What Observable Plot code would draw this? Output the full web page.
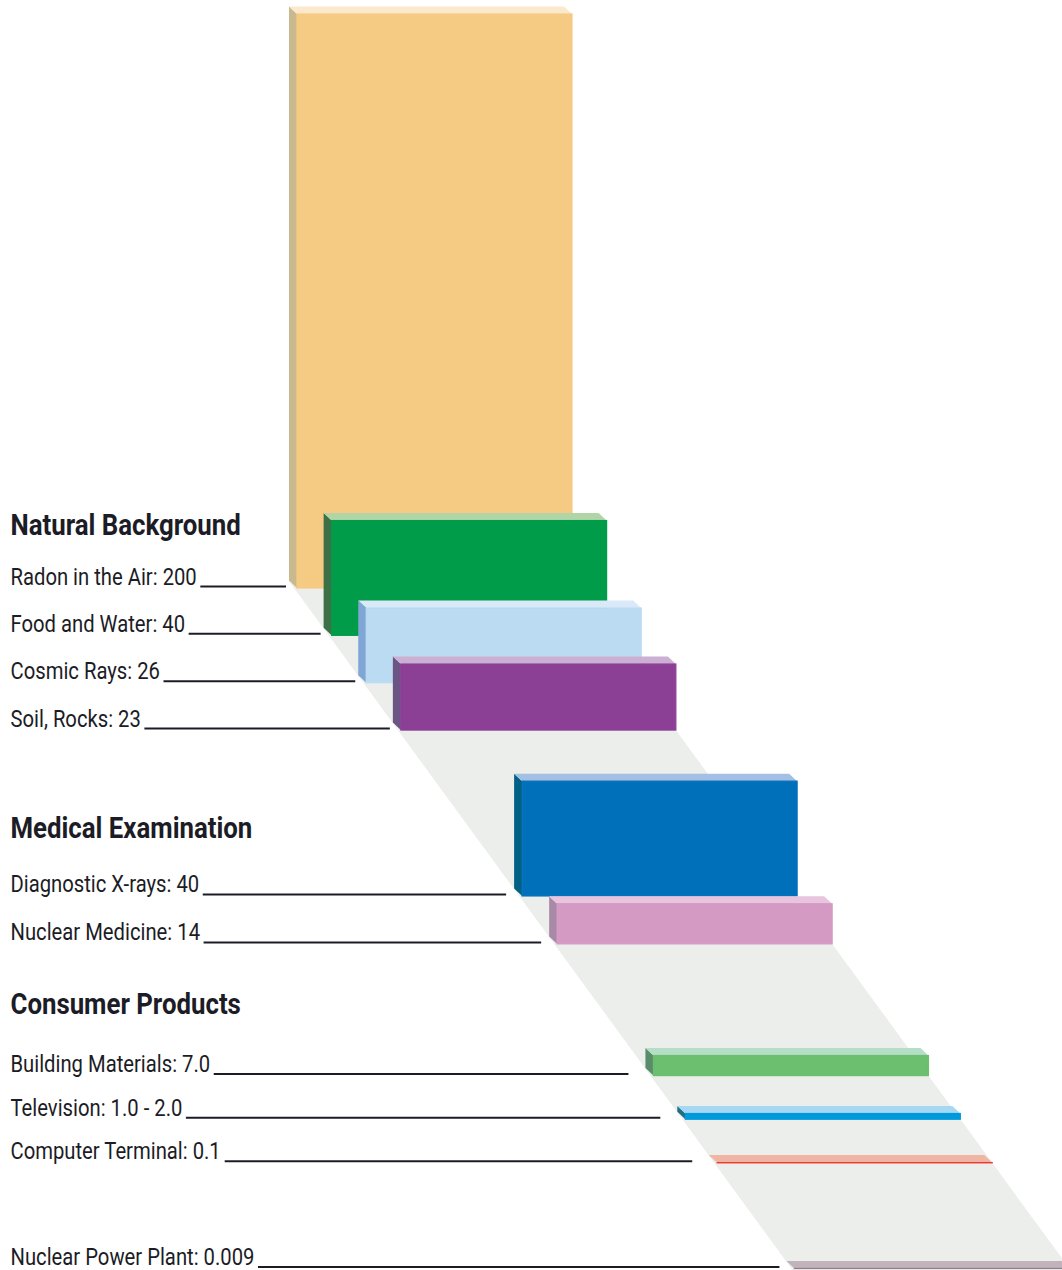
<!DOCTYPE html>
<html><head><meta charset="utf-8">
<script src="https://cdn.jsdelivr.net/npm/d3@7"></script>
<script src="https://cdn.jsdelivr.net/npm/@observablehq/plot@0.6"></script>
<style>
html,body{margin:0;padding:0;background:#fff;}
#chart svg{display:block;}
</style></head><body><div id="chart"></div>
<script>
// ---------------- data ----------------
const categories = ["Radon in the Air", "Food and Water", "Cosmic Rays", "Soil, Rocks",
  "Diagnostic X-rays", "Nuclear Medicine",
  "Building Materials", "Television", "Computer Terminal",
  "Nuclear Power Plant"];
const groupOf = ["Natural Background", "Natural Background", "Natural Background", "Natural Background",
  "Medical Examination", "Medical Examination",
  "Consumer Products", "Consumer Products", "Consumer Products",
  "Other"];
const doses = [200, 40, 26, 23, 40, 14, 7.0, 2.0, 0.1, 0.009];
const doseLabels = ["200", "40", "26", "23", "40", "14", "7.0", "1.0 - 2.0", "0.1", "0.009"];
const groupHeadings = ["Natural Background", "Medical Examination", "Consumer Products"];

// ---------------- styles ----------------
const frontColors = ["#f5cb84", "#009c4a", "#bbdbf2", "#8b3f95", "#0070ba", "#d59ac3", "#6bbf6f", "#0099da", "#ed3b30", "#8e8088"];
const topColors   = ["#fbe9cd", "#b2d5a8", "#d9e9f8", "#cbb0d3", "#a3bfe3", "#e9c4de", "#b5dec6", "#a7d8f3", "#efb7a3", "#c1b2bb"];
const sideColors  = ["#c9b98f", "#3d7047", "#80a6d6", "#6c5485", "#006185", "#a88aa8", "#5a8b6b", "#1d6e86", "#c07060", "#9a8c94"];
const floorColor = "#eceeeb";
const inkColor = "#1c1c26";
const labelFont = "Roboto, 'Liberation Sans', sans-serif";
const labelSize = 23, headSize = 29;
const labelStretch = 0.88, headStretch = 0.89;   // horizontal condensing of the type

// ---------------- layout (dose units; K px per unit) ----------------
const W = 1062, H = 1270;
const K = 2.87;                 // px per dose unit on both axes
const slope = 0.731;            // oblique shift of the depth axis
const E0 = (H - 588) / K;       // elevation of the back-most baseline
const X0 = 297 / K;             // left of the back-most front face
const BW = 275 / K;             // bar width
const DX = -8 / K, DY = 7.5 / K; // back-face offset
const labelX = 10 / K;
const groupLayout = {
  "Natural Background":  {step: 16.5, gap: 0,    headGap: 50, lineGap: 11},
  "Medical Examination": {step: 16.7, gap: 57.8, headGap: 54, lineGap: 16},
  "Consumer Products":   {step: 15.2, gap: 45.9, headGap: 58, lineGap: 25},
  "Other":               {step: 0,    gap: 36.8, headGap: 0,  lineGap: 15}
};

// text measurement for leader-line starts
const ctx = document.createElement("canvas").getContext("2d");
ctx.font = `${labelSize}px ${labelFont}`;

let t = 0;
const rows = categories.map((c, i) => {
  const g = groupOf[i];
  if (i > 0) t += g !== groupOf[i - 1] ? groupLayout[g].gap : groupLayout[g].step;
  const text = `${c}: ${doseLabels[i]}`;
  return {
    i, category: c, group: g, dose: doses[i], text,
    t, base: E0 - t, xf: X0 + slope * t,
    lineStart: labelX + (ctx.measureText(text).width * labelStretch + 4) / K,
    lineEnd: X0 + slope * t - groupLayout[g].lineGap / K
  };
});
const heads = groupHeadings.map(g => {
  const r = rows.find(d => d.group === g);
  return {g, base: r.base, off: groupLayout[g].headGap};
});

const xFront = tt => X0 + slope * tt;
const floor = [{tt: -DY}, {tt: E0 + 1}];

const barMarks = rows.flatMap(r => {
  const d = [r];
  return [
    Plot.areaY([{x: r.xf + DX, y1: r.base + DY, y2: r.base + r.dose + DY}, {x: r.xf, y1: r.base, y2: r.base + r.dose}],
      {x: "x", y1: "y1", y2: "y2", fill: sideColors[r.i]}),
    Plot.areaX([{y: r.base + r.dose + DY, x1: r.xf + DX, x2: r.xf + DX + BW}, {y: r.base + r.dose, x1: r.xf, x2: r.xf + BW}],
      {y: "y", x1: "x1", x2: "x2", fill: topColors[r.i]}),
    Plot.rect(d, {x1: "xf", x2: d => d.xf + BW, y1: "base", y2: d => d.base + d.dose,
      fill: frontColors[r.i], stroke: frontColors[r.i], strokeWidth: 1.2})
  ];
});

const chart = Plot.plot({
  width: W, height: H,
  marginTop: 0, marginRight: 0, marginBottom: 0, marginLeft: 0,
  x: {type: "linear", domain: [0, W / K], range: [0, W], axis: null},
  y: {type: "linear", domain: [0, H / K], range: [H, 0], axis: null},
  style: {background: "#ffffff", fontFamily: labelFont},
  marks: [
    Plot.areaX(floor, {y: d => E0 - d.tt, x1: d => xFront(d.tt) - 3 / K, x2: d => xFront(d.tt) + BW, fill: floorColor}),
    Plot.ruleY(rows, {y: "base", x1: "lineStart", x2: "lineEnd", dy: -2, stroke: inkColor, strokeWidth: 2}),
    ...barMarks,
    Plot.text(rows, {x: () => labelX, y: "base", dy: -4, text: "text", textAnchor: "start", lineAnchor: "bottom",
      fontSize: labelSize, fontFamily: labelFont, fill: inkColor}),
    Plot.text(heads, {x: () => labelX, y: "base", text: "g", textAnchor: "start", lineAnchor: "bottom",
      fontSize: headSize, fontWeight: "bold", fontFamily: labelFont, fill: inkColor})
  ]
});
// condense the type horizontally; headings sit headGap px above the label baseline
const textGroups = d3.select(chart).selectAll("g[aria-label=text]").nodes();
d3.select(textGroups[0]).selectAll("text").attr("transform", function() {
  return (d3.select(this).attr("transform") || "") + ` scale(${labelStretch},1)`;
});
d3.select(textGroups[1]).selectAll("text").attr("transform", function(_, j) {
  return (d3.select(this).attr("transform") || "") + ` translate(0,${-(4 + heads[j].off)}) scale(${headStretch},1)`;
});
document.getElementById("chart").appendChild(chart);
</script>
</body></html>
